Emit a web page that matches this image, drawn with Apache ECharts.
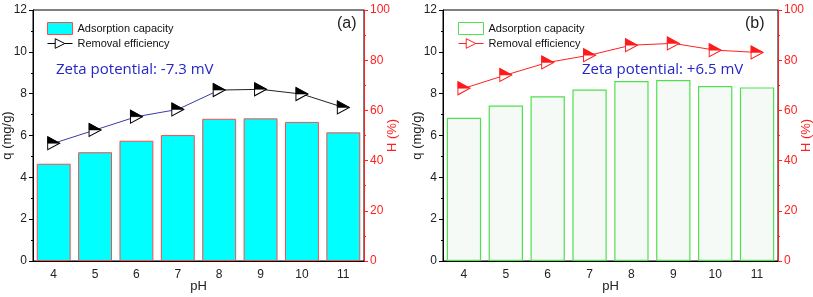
<!DOCTYPE html>
<html>
<head>
<meta charset="utf-8">
<script src="https://cdn.jsdelivr.net/npm/echarts@6/dist/echarts.min.js"></script>
<style>
html,body{margin:0;padding:0;background:#fff;}
#chart{width:813px;height:297px;}
</style>
</head>
<body>
<div id="chart"></div>
<script>
// ---- data ----
var pH = ['4', '5', '6', '7', '8', '9', '10', '11'];
var qA = [4.65, 5.2, 5.75, 6.02, 6.8, 6.82, 6.65, 6.15];   // Adsorption capacity (a), mg/g
var hA = [46.9, 52.2, 57.5, 60.4, 68.1, 68.4, 66.5, 61.2]; // Removal efficiency (a), %
var qB = [6.85, 7.43, 7.88, 8.2, 8.6, 8.65, 8.37, 8.3];    // Adsorption capacity (b), mg/g
var hB = [68.8, 74.1, 79.1, 82.0, 86.0, 86.7, 84.0, 83.1]; // Removal efficiency (b), %
var qTicks = [0, 12, 2];
var hTicks = [0, 100, 20];
var zetaA = 'Zeta potential: -7.3 mV';
var zetaB = 'Zeta potential: +6.5 mV';
var nameQ = 'Adsorption capacity';
var nameH = 'Removal efficiency';

var FONT = 'Liberation Sans';
var TRI = 'path://M0,0L12,6.5L0,13Z';
var HALF = 'path://M0,0L12,6.5L0,6.5Z';
var chart = echarts.init(document.getElementById('chart'));

function grid(left, width) {
  return {left: left, top: 10, width: width, height: 251, show: true,
    borderColor: '#000', borderWidth: 1, backgroundColor: 'transparent',
    containLabel: false, outerBoundsMode: 'none'};
}
function xMain(gi) {
  return {type: 'category', gridIndex: gi, data: pH, boundaryGap: true,
    name: 'pH', nameLocation: 'middle', nameGap: 19, nameMoveOverlap: false,
    nameTextStyle: {fontFamily: FONT, fontSize: 13, color: '#222'},
    axisLine: {lineStyle: {color: '#000', width: 1}},
    axisTick: {alignWithLabel: true, length: 4, lineStyle: {color: '#000'}},
    axisLabel: {fontFamily: FONT, fontSize: 12, color: '#222', margin: 8}};
}
function xMinor(gi) {
  return {type: 'category', gridIndex: gi, data: pH, boundaryGap: true, position: 'bottom',
    axisLine: {show: false}, axisLabel: {show: false},
    axisTick: {length: 2, lineStyle: {color: '#000'}}};
}
function yLeft(gi) {
  return {type: 'value', gridIndex: gi, min: qTicks[0], max: qTicks[1], interval: qTicks[2],
    position: 'left', name: 'q (mg/g)', nameLocation: 'middle', nameGap: 19, nameMoveOverlap: false,
    nameTextStyle: {fontFamily: FONT, fontSize: 13, color: '#222'},
    axisLine: {show: true, lineStyle: {color: '#000'}},
    axisTick: {show: true, length: 4, lineStyle: {color: '#000'}},
    minorTick: {show: true, splitNumber: 2, length: 2, lineStyle: {color: '#000'}},
    splitLine: {show: false},
    axisLabel: {fontFamily: FONT, fontSize: 12, color: '#222', margin: 6}};
}
function yRight(gi) {
  return {type: 'value', gridIndex: gi, min: hTicks[0], max: hTicks[1], interval: hTicks[2],
    position: 'right', name: 'H (%)', nameLocation: 'middle', nameGap: 22, nameRotate: 90,
    nameMoveOverlap: false,
    nameTextStyle: {fontFamily: FONT, fontSize: 13, color: '#ff2020'},
    axisLine: {show: true, lineStyle: {color: '#ff2020', width: 1}},
    axisTick: {show: true, length: 4, lineStyle: {color: '#ff2020'}},
    minorTick: {show: true, splitNumber: 2, length: 2, lineStyle: {color: '#ff2020'}},
    splitLine: {show: false},
    axisLabel: {fontFamily: FONT, fontSize: 12, color: '#ff2020', margin: 6}};
}
var split = 4 / (pH.length - 1);
var gradA = new echarts.graphic.LinearGradient(0, 0, 1, 0, [
  {offset: 0, color: '#3b3ba6'}, {offset: split, color: '#3b3ba6'},
  {offset: split, color: '#222'}, {offset: 1, color: '#222'}]);

function lineSeries(xi, yi, data, lineColor, markColor) {
  return [{
    type: 'line', name: nameH, xAxisIndex: xi, yAxisIndex: yi, data: data,
    symbol: TRI, symbolSize: [12, 13], z: 5,
    lineStyle: {color: lineColor, width: 1},
    itemStyle: {color: '#fff', borderColor: markColor, borderWidth: 1}
  }, {
    type: 'line', name: nameH, xAxisIndex: xi, yAxisIndex: yi, data: data,
    symbol: HALF, symbolSize: [12, 6.5], symbolOffset: [0, -3.25], z: 6,
    lineStyle: {width: 0, opacity: 0},
    itemStyle: {color: markColor, borderColor: markColor, borderWidth: 0.5}
  }];
}

var series = [
  {type: 'bar', name: nameQ, xAxisIndex: 0, yAxisIndex: 0, data: qA, barWidth: '82%',
    itemStyle: {color: '#00ffff', borderColor: '#ff4a4a', borderWidth: 1}}
].concat(lineSeries(0, 1, hA, gradA, '#000')).concat([
  {type: 'bar', name: nameQ, xAxisIndex: 2, yAxisIndex: 2, data: qB, barWidth: '82%',
    itemStyle: {color: '#f6faf7', borderColor: '#4fe04f', borderWidth: 1.2}}
]).concat(lineSeries(2, 3, hB, '#ff2020', '#ff1a1a'));

function legend(left, barFill, barBorder, lineColor) {
  return {left: left, top: 17, orient: 'vertical', itemWidth: 25, itemHeight: 12, itemGap: 3,
    selectedMode: false,
    textStyle: {fontFamily: FONT, fontSize: 11, color: '#111'},
    data: [
      {name: nameQ, icon: 'rect', itemStyle: {color: barFill, borderColor: barBorder, borderWidth: 1}},
      {name: nameH, itemStyle: {color: '#fff', borderColor: lineColor, borderWidth: 1},
        lineStyle: {color: lineColor, width: 1}}
    ]};
}

chart.setOption({
  animation: false,
  backgroundColor: '#fff',
  grid: [grid(33, 331), grid(443, 335)],
  xAxis: [xMain(0), xMinor(0), xMain(1), xMinor(1)],
  yAxis: [yLeft(0), yRight(0), yLeft(1), yRight(1)],
  legend: [legend(42, '#00ffff', '#ff4a4a', '#000'), legend(453, '#fff', '#4fe04f', '#ff2020')],
  series: series,
  graphic: [
    {type: 'text', left: 56, top: 62, style: {text: zetaA, fill: '#2525c8', font: '15px "Open Sans"'}},
    {type: 'text', left: 582, top: 62, style: {text: zetaB, fill: '#2525c8', font: '15px "Open Sans"'}},
    {type: 'text', left: 337, top: 16, style: {text: '(a)', fill: '#222', font: '16px "Liberation Sans"'}},
    {type: 'text', left: 745, top: 16, style: {text: '(b)', fill: '#222', font: '16px "Liberation Sans"'}}
  ]
});
</script>
</body>
</html>
